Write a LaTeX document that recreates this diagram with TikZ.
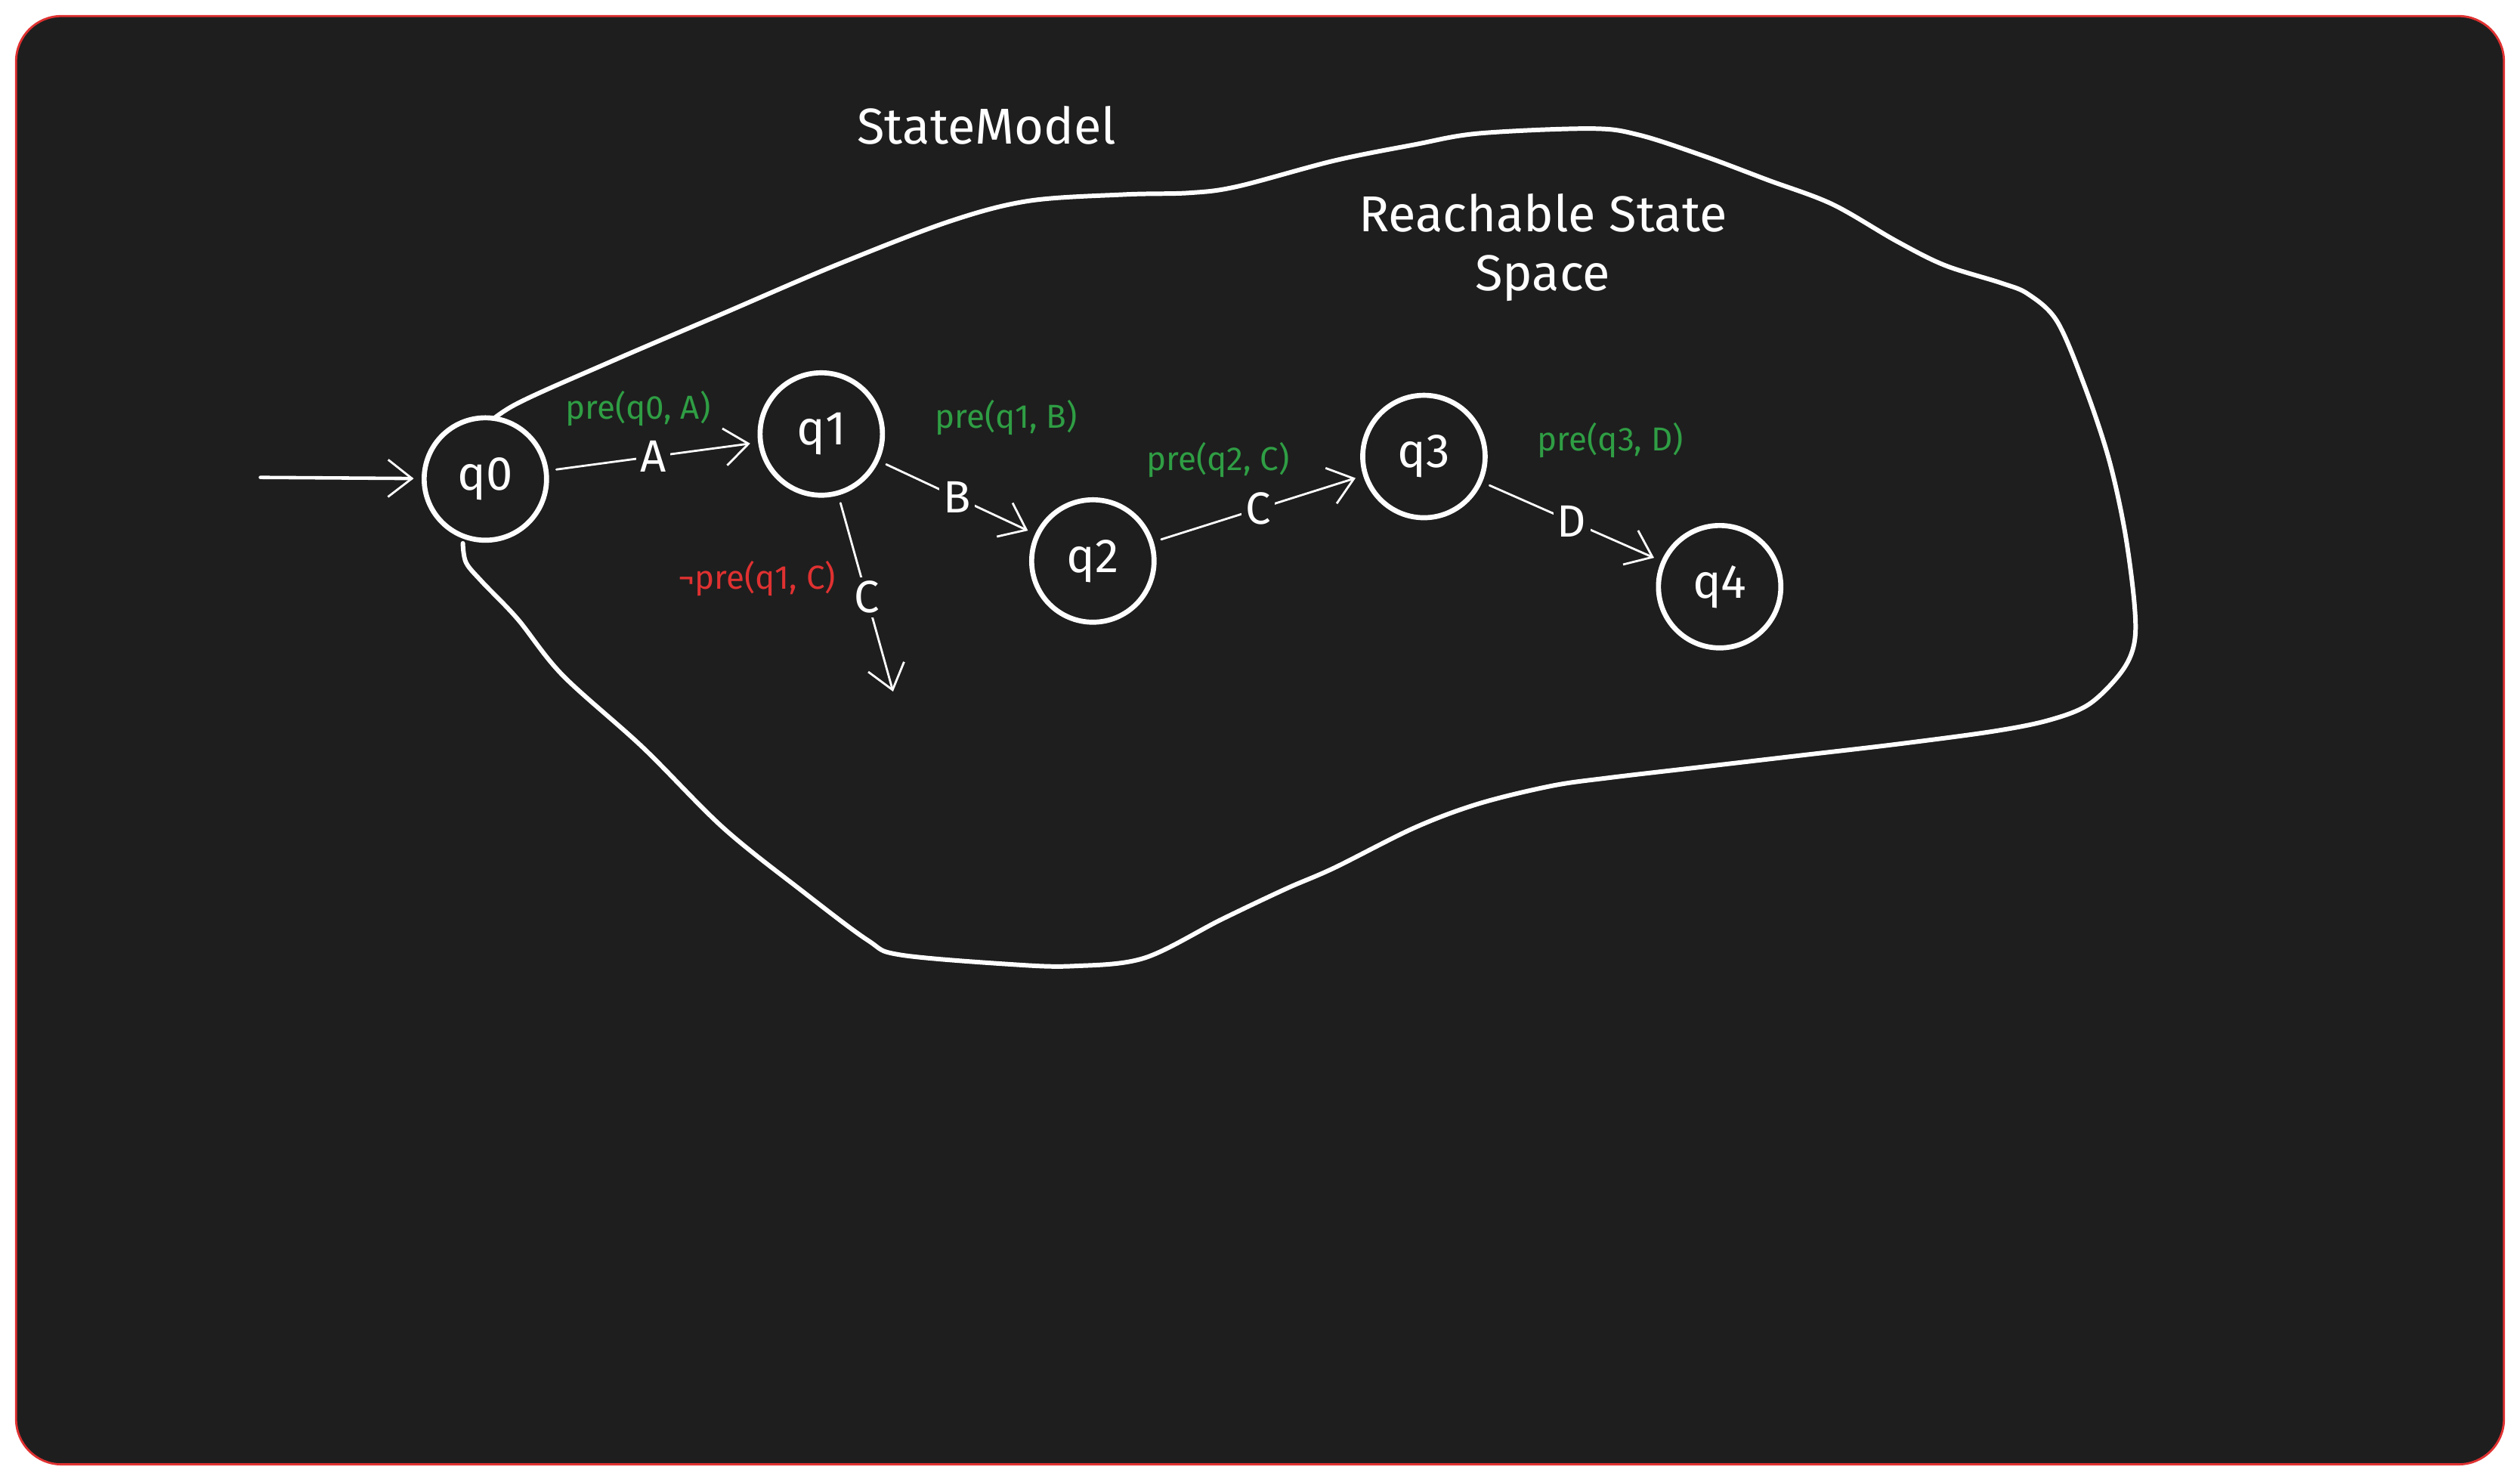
\documentclass[tikz,border=0pt]{standalone}
\usepackage{fontspec}
\setmainfont{Fira Sans}
\usetikzlibrary{arrows.meta}
\definecolor{bg}{HTML}{1E1E1E}
\definecolor{framered}{HTML}{E03131}
\definecolor{pregreen}{HTML}{2F9E44}
\definecolor{prered}{HTML}{E03131}
\begin{document}
\begin{tikzpicture}[x=0.02127cm,y=-0.02127cm,line join=round,line cap=round,
    state/.style={circle,draw=white,line width=1.9pt,minimum size=1.62cm,inner sep=0pt,text=white,font=\fontsize{18}{20}\selectfont},
    trans/.style={draw=white,line width=0.8pt,shorten <=3pt,shorten >=3pt,-{Straight Barb[length=9pt,width=14pt,line width=0.8pt]}},
    sym/.style={fill=bg,text=white,inner sep=1.5pt,font=\fontsize{17}{19}\selectfont},
    pre/.style={text=pregreen,font=\fontsize{12.5}{14}\selectfont},
    notpre/.style={text=prered,font=\fontsize{12.5}{14}\selectfont},
    title/.style={text=white,font=\fontsize{19}{22}\selectfont,align=center}]
\useasboundingbox (0,0) rectangle (1568,920);
\fill[white] (0,0) rectangle (1568,920);
\draw[framered,fill=bg,line width=0.8pt,rounded corners=0.6cm] (10,10) rectangle (1558,911);
% reachable region
\draw[white,line width=1.7pt] plot[smooth,tension=0.55] coordinates {
    (296,270) (320,252) (380,225) (450,195) (520,165) (590,138) (640,125) (700,121)
    (740,120) (770,116) (830,100) (880,90) (920,83) (990,80) (1020,84) (1060,97)
    (1100,112) (1140,127) (1180,150) (1210,165) (1245,176) (1262,183) (1280,200)
    (1297,240) (1312,285) (1322,330) (1328,375) (1328,400) (1320,418) (1300,438)
    (1275,448) (1240,455) (1180,463) (1120,470) (1060,477) (1000,484) (965,489)
    (920,500) (880,515) (830,540) (800,553) (760,572) (712,596) (668,601) (630,600)
    (560,594) (540,585) (500,555) (450,515) (400,465) (350,420) (322,385)
    (300,362) (290,350) (288,338)};
\node[title] (model) at (614,78) {StateModel};
\node[title] (reach) at (960,154) {Reachable State\\Space};
% states
\node[state,fill=bg] (q0) at (302,298) {q0};
\node[state] (q1) at (511,270) {q1};
\node[state] (q2) at (680,349) {q2};
\node[state] (q3) at (886,284) {q3};
\node[state] (q4) at (1070,365) {q4};
\coordinate (init) at (162,297);
\coordinate (drop) at (557,435);
% transitions
\draw[trans,line width=1.3pt,shorten <=0pt] (init) -- (q0);
\draw[trans] (q0) -- node[sym] (a) {A} (q1);
\draw[trans] (q1) -- node[sym] (b) {B} (q2);
\draw[trans] (q1) -- node[sym] (c1) {C} (drop);
\draw[trans] (q2) -- node[sym] (c2) {C} (q3);
\draw[trans] (q3) -- node[sym] (d) {D} (q4);
\node[pre] (pa) at (397,254) {pre(q0, A)};
\node[pre] (pb) at (626,260) {pre(q1, B)};
\node[notpre] (pc1) at (471,360) {¬pre(q1, C)};
\node[pre] (pc2) at (758,286) {pre(q2, C)};
\node[pre] (pd) at (1002,274) {pre(q3, D)};
\end{tikzpicture}
\end{document}
